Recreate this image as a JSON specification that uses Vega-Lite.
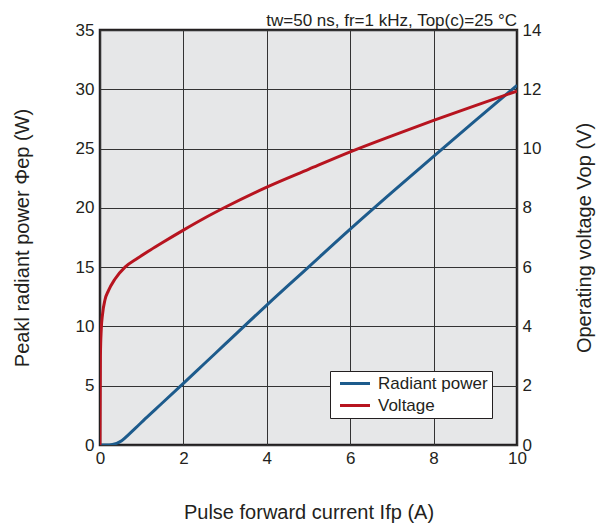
{
  "$schema": "https://vega.github.io/schema/vega-lite/v6.json",
  "width": 417,
  "height": 415,
  "autosize": {"type": "none"},
  "padding": {"left": 100, "top": 30, "right": 79, "bottom": 86},
  "background": "white",
  "config": {
    "font": "Liberation Sans",
    "view": {"fill": "#e6e7e8", "stroke": "#231f20", "strokeWidth": 2.5},
    "axis": {
      "labelFont": "Liberation Sans",
      "labelFontSize": 17,
      "labelColor": "#231f20",
      "labelFlush": false,
      "titleFont": "Liberation Sans",
      "titleFontSize": 20,
      "titleFontWeight": "normal",
      "titleColor": "#231f20",
      "ticks": false,
      "tickSize": 0,
      "domain": false,
      "gridColor": "#333333",
      "gridOpacity": 1,
      "gridWidth": 1
    },
    "legend": {
      "labelFont": "Liberation Sans",
      "labelFontSize": 17,
      "labelColor": "#231f20"
    }
  },
  "title": {
    "text": "tw=50 ns, fr=1 kHz, Top(c)=25 °C",
    "anchor": "end",
    "frame": "group",
    "fontSize": 17,
    "fontWeight": "normal",
    "font": "Liberation Sans",
    "color": "#231f20",
    "baseline": "alphabetic",
    "offset": -22
  },
  "datasets": {
    "voltage": [
      {"I": 0, "V": 0, "series": "Voltage"},
      {"I": 0.01, "V": 3.0, "series": "Voltage"},
      {"I": 0.03, "V": 3.9, "series": "Voltage"},
      {"I": 0.06, "V": 4.4, "series": "Voltage"},
      {"I": 0.12, "V": 4.9, "series": "Voltage"},
      {"I": 0.2, "V": 5.2, "series": "Voltage"},
      {"I": 0.36, "V": 5.6, "series": "Voltage"},
      {"I": 0.6, "V": 6.0, "series": "Voltage"},
      {"I": 0.9, "V": 6.3, "series": "Voltage"},
      {"I": 1.2, "V": 6.57, "series": "Voltage"},
      {"I": 1.5, "V": 6.83, "series": "Voltage"},
      {"I": 2, "V": 7.25, "series": "Voltage"},
      {"I": 2.5, "V": 7.65, "series": "Voltage"},
      {"I": 3, "V": 8.02, "series": "Voltage"},
      {"I": 4, "V": 8.7, "series": "Voltage"},
      {"I": 5, "V": 9.3, "series": "Voltage"},
      {"I": 6, "V": 9.89, "series": "Voltage"},
      {"I": 7, "V": 10.43, "series": "Voltage"},
      {"I": 8, "V": 10.95, "series": "Voltage"},
      {"I": 9, "V": 11.45, "series": "Voltage"},
      {"I": 10, "V": 11.94, "series": "Voltage"}
    ],
    "power": [
      {"I": 0, "P": 0, "series": "Radiant power"},
      {"I": 0.15, "P": 0, "series": "Radiant power"},
      {"I": 0.3, "P": 0.05, "series": "Radiant power"},
      {"I": 0.52, "P": 0.36, "series": "Radiant power"},
      {"I": 0.68, "P": 0.86, "series": "Radiant power"},
      {"I": 0.85, "P": 1.42, "series": "Radiant power"},
      {"I": 1.08, "P": 2.2, "series": "Radiant power"},
      {"I": 1.48, "P": 3.5, "series": "Radiant power"},
      {"I": 2, "P": 5.2, "series": "Radiant power"},
      {"I": 2.5, "P": 6.85, "series": "Radiant power"},
      {"I": 3, "P": 8.5, "series": "Radiant power"},
      {"I": 4, "P": 11.8, "series": "Radiant power"},
      {"I": 5, "P": 15.0, "series": "Radiant power"},
      {"I": 6, "P": 18.2, "series": "Radiant power"},
      {"I": 7, "P": 21.3, "series": "Radiant power"},
      {"I": 8, "P": 24.35, "series": "Radiant power"},
      {"I": 9, "P": 27.35, "series": "Radiant power"},
      {"I": 10, "P": 30.33, "series": "Radiant power"}
    ]
  },
  "layer": [
    {
      "data": {"name": "power"},
      "mark": {"type": "line", "interpolate": "monotone", "strokeWidth": 3, "clip": true},
      "encoding": {
        "x": {
          "field": "I", "type": "quantitative",
          "scale": {"domain": [0, 10], "nice": false},
          "axis": {"values": [0, 2, 4, 6, 8, 10], "grid": true, "labelPadding": 5, "titlePadding": 36, "title": "Pulse forward current Ifp (A)"}
        },
        "y": {
          "field": "P", "type": "quantitative",
          "scale": {"domain": [0, 35], "nice": false},
          "axis": {"orient": "left", "values": [0, 5, 10, 15, 20, 25, 30, 35], "grid": true, "labelPadding": 6, "titlePadding": 43, "title": "Peakl radiant power Φep (W)"}
        },
        "color": {
          "field": "series", "type": "nominal",
          "scale": {"domain": ["Radiant power", "Voltage"], "range": ["#1d5b8c", "#b7141f"]},
          "legend": {
            "title": null,
            "orient": "none",
            "legendX": 230,
            "legendY": 341,
            "fillColor": "white",
            "strokeColor": "#231f20",
            "padding": 4,
            "rowPadding": 4,
            "symbolType": "M-2.5,0H2.5",
            "symbolSize": 144,
            "symbolStrokeWidth": 3,
            "symbolOffset": 12.5,
            "labelOffset": 14.5
          }
        }
      }
    },
    {
      "data": {"name": "voltage"},
      "mark": {"type": "line", "interpolate": "monotone", "strokeWidth": 3, "clip": true},
      "encoding": {
        "x": {"field": "I", "type": "quantitative"},
        "y": {
          "field": "V", "type": "quantitative",
          "scale": {"domain": [0, 14], "nice": false},
          "axis": {"orient": "right", "values": [0, 2, 4, 6, 8, 10, 12, 14], "grid": false, "labelPadding": 5, "titleAngle": -90, "titleBaseline": "bottom", "titlePadding": 54, "title": "Operating voltage Vop (V)"}
        },
        "color": {"field": "series", "type": "nominal"}
      }
    }
  ],
  "resolve": {"scale": {"y": "independent"}}
}
